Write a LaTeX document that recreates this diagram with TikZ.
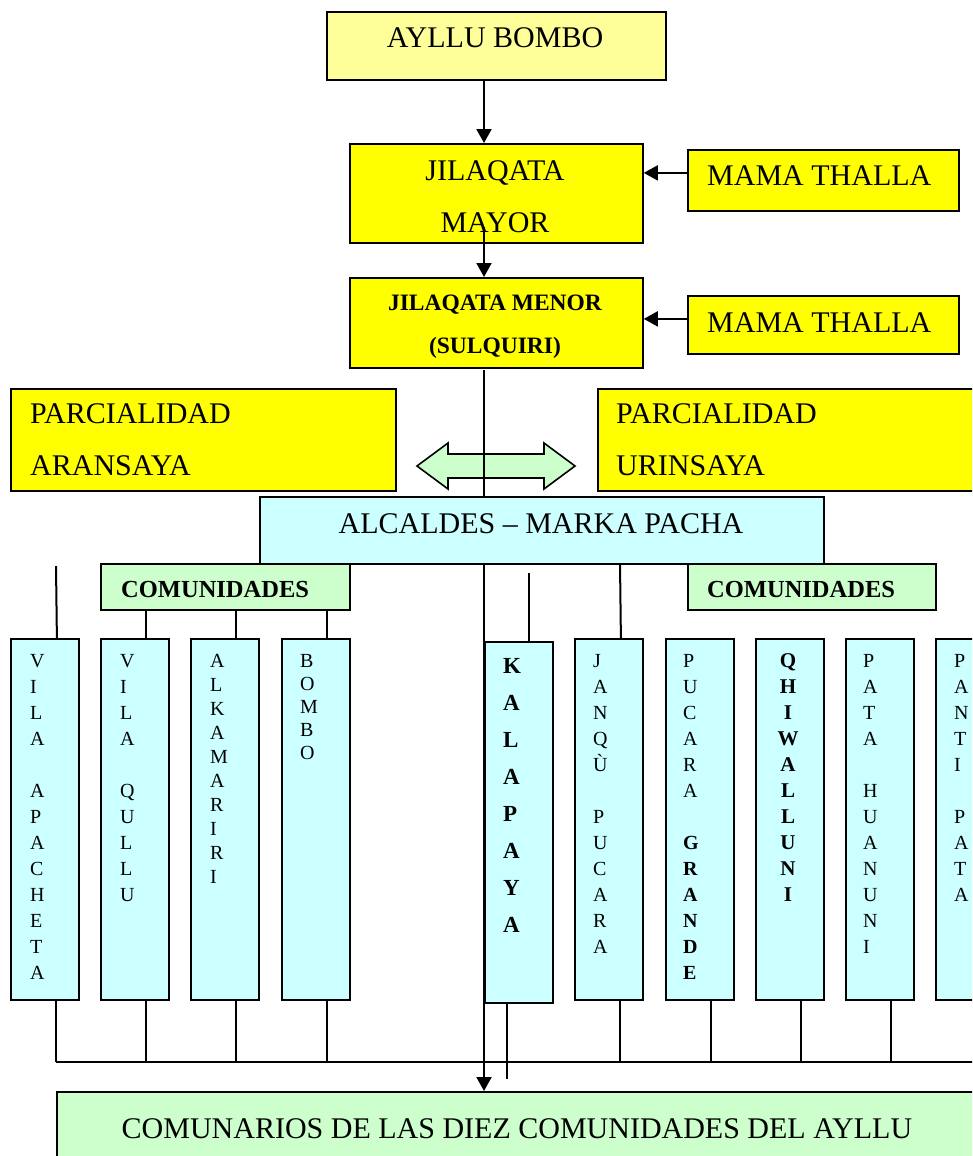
\documentclass[tikz,border=0pt]{standalone}
\usepackage{fontspec}
\setmainfont{Liberation Serif}
\usetikzlibrary{arrows.meta}
\definecolor{ltyellow}{HTML}{FFFF99}
\definecolor{yel}{HTML}{FFFF00}
\definecolor{ltcyan}{HTML}{CCFFFF}
\definecolor{ltgreen}{HTML}{CCFFCC}
% vertical stack of letters, left aligned; #1 = baseline skip, #2 = font, #3 = letters
\newcommand\colstackL[3]{\vtop{\baselineskip=#1\lineskiplimit=-100pt\lineskip=0pt #2%
  \foreach \c in {#3}{\hbox{\c}}}}
% centered variant
\newcommand\colstackC[3]{\vtop{\baselineskip=#1\lineskiplimit=-100pt\lineskip=0pt #2%
  \foreach \c in {#3}{\hbox to 0pt{\hss\c\hss}}}}
\begin{document}
\begin{tikzpicture}[x=1pt,y=-1pt,
  box/.style={draw=black, line width=1.8pt, inner sep=0pt, anchor=north west},
  conn/.style={line width=2pt},
  arr/.style={line width=2pt, -{Triangle[length=14pt,width=15pt]}},
  txt/.style={inner sep=0pt, font=\fontsize{30}{36}\selectfont},
  btxt/.style={inner sep=0pt, font=\fontsize{23.5}{28}\selectfont\bfseries},
  ctxt/.style={inner sep=0pt, font=\fontsize{24.5}{28}\selectfont\bfseries},
  colbox/.style={box, fill=ltcyan, minimum width=68pt, minimum height=361pt},
  stk/.style={inner sep=0pt, anchor=base west}]
\clip (0,0) rectangle (972,1156);
\fill[white] (0,0) rectangle (972,1156);

% top boxes
\node[box, fill=ltyellow, minimum width=339pt, minimum height=68pt] (ayllu) at (326,11) {};
\node[txt, anchor=base] (aylluT) at (495,48) {AYLLU BOMBO};

\node[box, fill=yel, minimum width=293pt, minimum height=99pt] (mayor) at (349,143) {};
\node[txt, anchor=base] (mayorA) at (495,180) {JILAQATA};
\node[txt, anchor=base] (mayorB) at (495,232) {MAYOR};

\node[box, fill=yel, minimum width=293pt, minimum height=90pt] (menor) at (349,277) {};
\node[btxt, anchor=base] (menorA) at (495,310) {JILAQATA MENOR};
\node[btxt, anchor=base] (menorB) at (495,353) {(SULQUIRI)};

\node[box, fill=yel, minimum width=271pt, minimum height=61pt] (mama1) at (687,149) {};
\node[txt, anchor=base west] (mama1T) at (707,185) {MAMA THALLA};
\node[box, fill=yel, minimum width=271pt, minimum height=58pt] (mama2) at (687,295) {};
\node[txt, anchor=base west] (mama2T) at (707,332) {MAMA THALLA};

% parcialidades
\node[box, fill=yel, minimum width=385pt, minimum height=102pt] (aran) at (10,388) {};
\node[txt, anchor=base west] (aranA) at (30,423) {PARCIALIDAD};
\node[txt, anchor=base west] (aranB) at (30,475) {ARANSAYA};
\node[box, fill=yel, minimum width=400pt, minimum height=102pt] (urin) at (597,388) {};
\node[txt, anchor=base west] (urinA) at (616,423) {PARCIALIDAD};
\node[txt, anchor=base west] (urinB) at (616,475) {URINSAYA};

% comunidades labels
\node[box, fill=ltgreen, minimum width=249pt, minimum height=46pt] (comL) at (100,563) {};
\node[ctxt, anchor=base west] (comLT) at (121,597) {COMUNIDADES};
\node[box, fill=ltgreen, minimum width=248pt, minimum height=46pt] (comR) at (687,563) {};
\node[ctxt, anchor=base west] (comRT) at (707,597) {COMUNIDADES};

% columns
\node[colbox] (c1) at (10,638) {};
\node[colbox] (c2) at (100,638) {};
\node[colbox] (c3) at (190,638) {};
\node[colbox] (c4) at (281,638) {};
\node[colbox] (c5) at (484,641) {};
\node[colbox] (c6) at (574,638) {};
\node[colbox] (c7) at (665,638) {};
\node[colbox] (c8) at (755,638) {};
\node[colbox] (c9) at (845,638) {};
\node[colbox] (c10) at (935,638) {};

\node[stk] (c1T) at (30,667) {\colstackL{26pt}{\fontsize{20}{26}\selectfont}{V,I,L,A,,A,P,A,C,H,E,T,A}};
\node[stk] (c2T) at (120,667) {\colstackL{26pt}{\fontsize{20}{26}\selectfont}{V,I,L,A,,Q,U,L,L,U}};
\node[stk] (c3T) at (210,667) {\colstackL{24pt}{\fontsize{20}{24}\selectfont}{A,L,K,A,M,A,R,I,R,I}};
\node[stk] (c4T) at (300,667) {\colstackL{23pt}{\fontsize{20}{23}\selectfont}{B,O,M,B,O}};
\node[stk] (c5T) at (503,673) {\colstackL{37pt}{\fontsize{23}{37}\selectfont\bfseries}{K,A,L,A,P,A,Y,A}};
\node[stk] (c6T) at (593,667) {\colstackL{26pt}{\fontsize{20}{26}\selectfont}{J,A,N,Q,Ù,,P,U,C,A,R,A}};
\node[stk] (c7T) at (683,667) {\colstackL{26pt}{\fontsize{20}{26}\selectfont}{P,U,C,A,R,A,,\textbf{G},\textbf{R},\textbf{A},\textbf{N},\textbf{D},\textbf{E}}};
\node[stk, anchor=base] (c8T) at (788,667) {\colstackC{26pt}{\fontsize{21}{26}\selectfont\bfseries}{Q,H,I,W,A,L,L,U,N,I}};
\node[stk] (c9T) at (863,667) {\colstackL{26pt}{\fontsize{20}{26}\selectfont}{P,A,T,A,,H,U,A,N,U,N,I}};
\node[stk] (c10T) at (954,667) {\colstackL{26pt}{\fontsize{20}{26}\selectfont}{P,A,N,T,I,,P,A,T,A}};

% bottom box
\node[box, fill=ltgreen, minimum width=925pt, minimum height=100pt] (comun) at (56,1091) {};
\node[txt, anchor=base] (comunT) at (517,1138) {COMUNARIOS DE LAS DIEZ COMUNIDADES DEL AYLLU};

% connectors: mama thalla
\coordinate (m1) at ([yshift=7.5pt]mama1.west);
\draw[arr] (m1) -- (m1 -| mayor.east);
\coordinate (m2) at ([yshift=6pt]mama2.west);
\draw[arr] (m2) -- (m2 -| mayor.east);

% connectors above columns
\coordinate (top1) at (56,566);
\draw[conn] (top1) -- ([xshift=12pt]c1.north);
\foreach \k in {c2,c3,c4} {
  \draw[conn] ([xshift=11.5pt]\k.north |- comL.south) -- ([xshift=11.5pt]\k.north);
}
\coordinate (alcbot) at (620,563);
\draw[conn] (alcbot) -- ([xshift=12pt]c6.north);
\coordinate (top5) at (529,573);
\draw[conn] (top5) -- (top5 |- c5.north);

% connectors below columns to bus
\coordinate (busL) at (56,1062);
\coordinate (busR) at (995,1062);
\foreach \k in {c1,c2,c3,c4,c6,c7,c8,c9,c10} {
  \draw[conn] ([xshift=11.5pt]\k.south) -- ([xshift=11.5pt]\k.south |- busL);
}
\coordinate (bot5) at (507,1079);
\draw[conn] (bot5 |- c5.south) -- (bot5);
\draw[conn] (busL) -- (busR);

% double arrow
\draw[line width=1.6pt, fill=ltgreen] (417,466) -- (448,443) -- (448,454) -- (544,454) -- (544,443)
  -- (575,466) -- (544,489) -- (544,478) -- (448,478) -- (448,489) -- cycle;

% trunk
\coordinate (t1) at (484,227);
\draw[arr] (ayllu.south -| t1) -- (t1 |- mayor.north);
\draw[arr] (t1) -- (t1 |- menor.north);
\coordinate (t2) at (484,370);
\draw[arr] (t2) -- (t2 |- comun.north);

% alcaldes on top of trunk
\node[box, fill=ltcyan, minimum width=564pt, minimum height=67pt] (alcaldes) at (259,496) {};
\node[txt, anchor=base] (alcaldesT) at (541,533) {ALCALDES -- MARKA PACHA};
\end{tikzpicture}
\end{document}
